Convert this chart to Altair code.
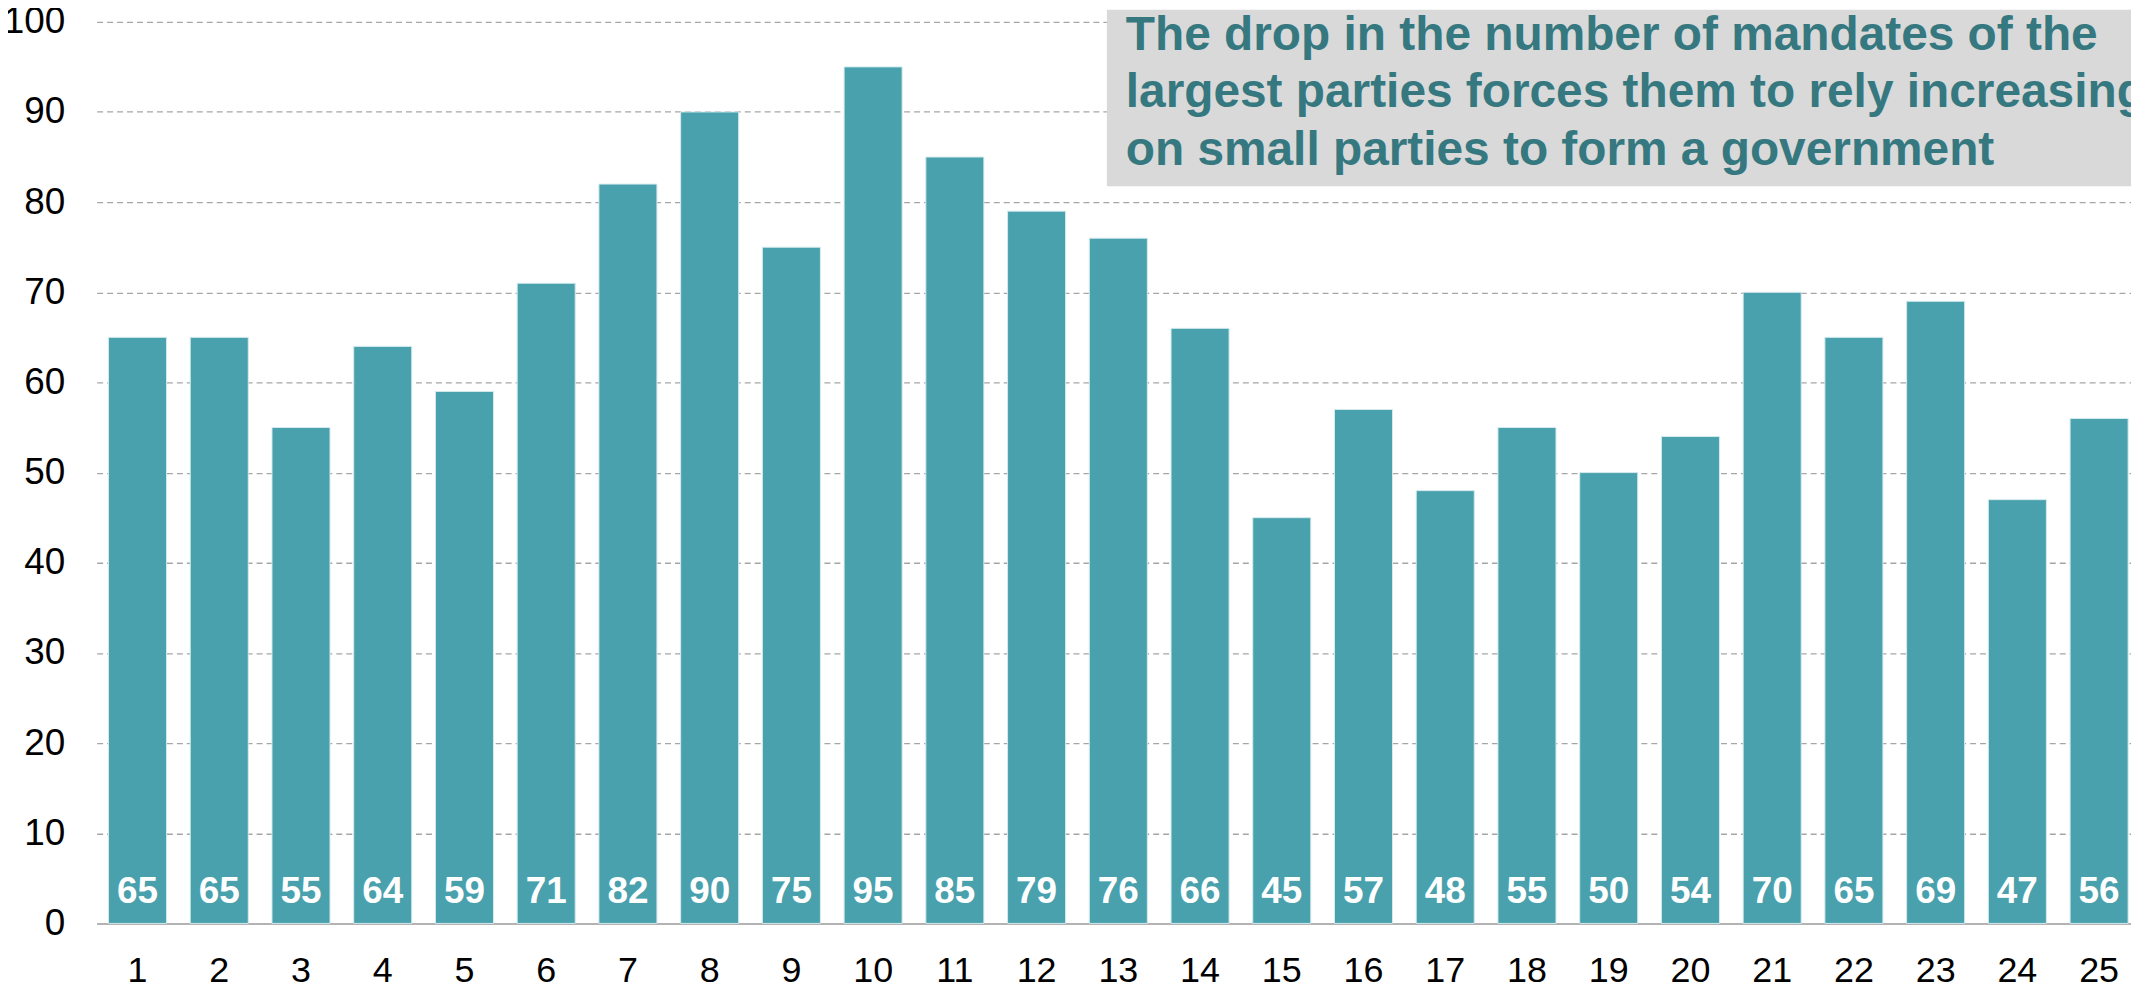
import altair as alt
import pandas as pd

# Data
categories = [str(i) for i in range(1, 26)]
values = [65, 65, 55, 64, 59, 71, 82, 90, 75, 95, 85, 79, 76, 66, 45,
          57, 48, 55, 50, 54, 70, 65, 69, 47, 56]
y_ticks = list(range(0, 101, 10))
title_lines = [
    "The drop in the number of mandates of the",
    "largest parties forces them to rely increasingly",
    "on small parties to form a government",
]

df = pd.DataFrame({"cat": categories, "value": values})

FONT = "Liberation Sans"
BAR = "#49a1ad"

x_enc = alt.X(
    "cat:N",
    sort=categories,
    scale=alt.Scale(paddingInner=0.29, paddingOuter=0.145, range=[0, 2051]),
    axis=alt.Axis(
        title=None, labelAngle=0, ticks=False, labelFontSize=36, labelColor="#000000",
        labelFont=FONT, labelPadding=30, domainColor="#b3b3b3", domainWidth=2,
    ),
)
y_enc = alt.Y(
    "value:Q",
    scale=alt.Scale(domain=[0, 100], nice=False),
    axis=alt.Axis(
        title=None, values=y_ticks, domain=False, ticks=False, labelFontSize=37,
        labelColor="#000000", labelFont=FONT, labelPadding=32,
        grid=True, gridDash=[6, 4], gridColor="#a6a6a6", gridWidth=1.3,
    ),
)

bars = alt.Chart(df).mark_bar(color=BAR, stroke="#d5eaed", strokeWidth=1).encode(
    x=x_enc, y=y_enc
)

labels = alt.Chart(df).mark_text(
    color="white", fontWeight="bold", fontSize=37, font=FONT,
    baseline="alphabetic", dy=-20,
).encode(
    x=alt.X("cat:N", sort=categories),
    y=alt.datum(0),
    text="value:Q",
)

one = pd.DataFrame({"k": [0]})
box = alt.Chart(one).mark_rect(color="#d9d9d9").encode(
    x=alt.value(1014), x2=alt.value(2200), y=alt.value(-12), y2=alt.value(165)
)
box_text = alt.Chart(one).mark_text(
    text=title_lines, align="left", baseline="alphabetic", fontSize=48,
    fontWeight="bold", font=FONT, color="#357880", lineHeight=58,
).encode(x=alt.value(1033), y=alt.value(28))

chart = alt.layer(bars, labels, box, box_text).properties(
    width=2042,
    height=905,
    autosize=alt.AutoSizeParams(type="none"),
    padding={"left": 89, "top": 12, "right": 0, "bottom": 68},
).configure_view(stroke=None)

chart.save("out.html", embed_options={"renderer": "svg", "actions": False})
